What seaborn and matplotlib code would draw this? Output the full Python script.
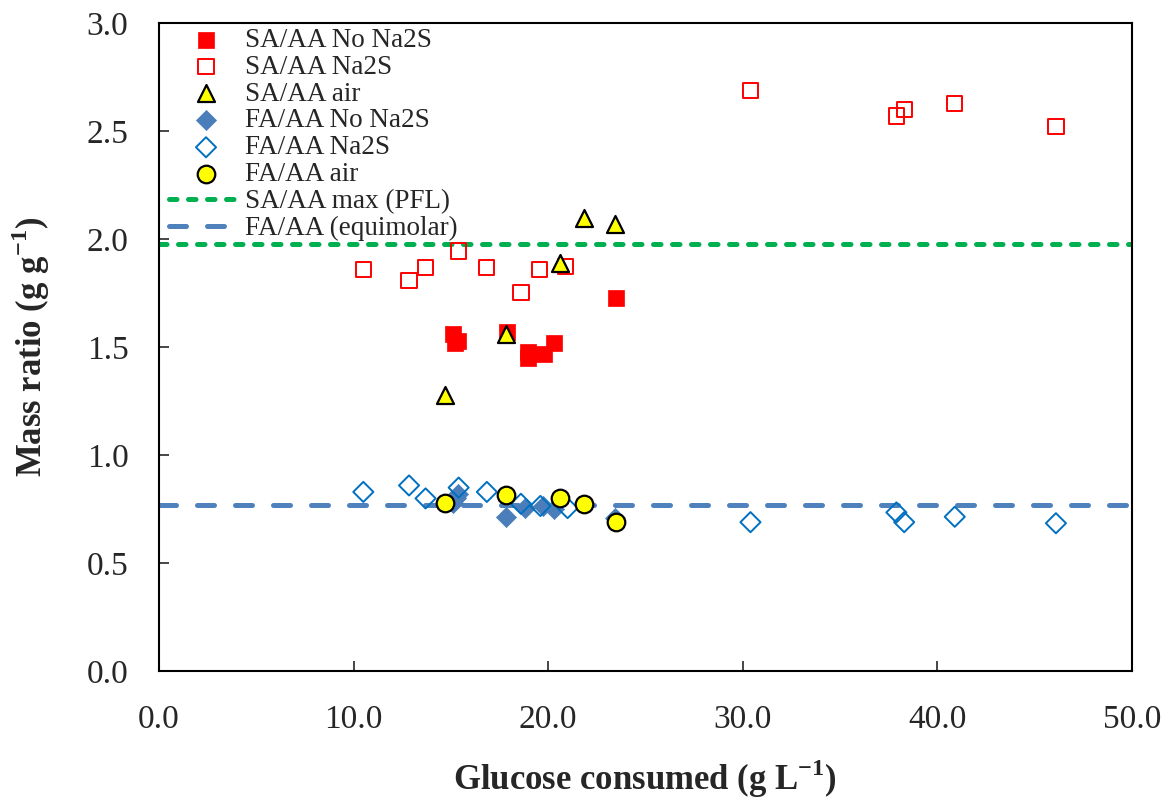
import numpy as np
import matplotlib
matplotlib.use('Agg')
import matplotlib.pyplot as plt
import seaborn as sns

sns.set_style('ticks')
plt.rcParams['font.family'] = ['Liberation Serif', 'DejaVu Serif']
plt.rcParams['mathtext.fontset'] = 'custom'
plt.rcParams['mathtext.rm'] = 'Liberation Serif'
plt.rcParams['mathtext.bf'] = 'Liberation Serif:bold'

# SA/AA, no Na2S (filled red squares)
sa_no_x = [15.1, 15.2, 15.35, 17.9, 18.95, 18.95, 19.8, 20.3, 23.5]
sa_no_y = [1.56, 1.52, 1.53, 1.57, 1.48, 1.45, 1.47, 1.52, 1.73]
# SA/AA, Na2S (open red squares)
sa_na_x = [10.5, 12.85, 13.7, 15.4, 16.85, 18.6, 19.55, 20.9, 30.4, 37.9, 38.3, 40.9, 46.1]
sa_na_y = [1.86, 1.81, 1.87, 1.945, 1.87, 1.755, 1.86, 1.875, 2.69, 2.57, 2.60, 2.63, 2.52]
# SA/AA, air (yellow triangles)
sa_air_x = [14.7, 17.85, 20.6, 21.85, 23.45]
sa_air_y = [1.28, 1.56, 1.89, 2.10, 2.07]
# FA/AA, no Na2S (filled blue diamonds)
fa_no_x = [15.1, 15.25, 15.35, 17.85, 18.8, 19.75, 20.3, 23.45]
fa_no_y = [0.78, 0.80, 0.82, 0.715, 0.755, 0.765, 0.75, 0.71]
# FA/AA, Na2S (open blue diamonds)
fa_na_x = [10.5, 12.85, 13.7, 15.4, 16.85, 18.6, 19.6, 21.0, 30.4, 37.9, 38.3, 40.9, 46.1]
fa_na_y = [0.83, 0.86, 0.80, 0.85, 0.83, 0.775, 0.765, 0.755, 0.69, 0.735, 0.69, 0.715, 0.685]
# FA/AA, air (yellow circles)
fa_air_x = [14.7, 17.85, 20.6, 21.85, 23.5]
fa_air_y = [0.78, 0.815, 0.80, 0.775, 0.69]

sa_max = 1.98
fa_equimolar = 0.77

fig = plt.figure(figsize=(11.72, 8.0), dpi=100)
ax = fig.add_axes([0.1357, 0.161, 0.830, 0.810])

ax.axhline(sa_max, color='#00B050', lw=3.6, ls=(0, (1.5, 2.3)),
           dash_capstyle='round', zorder=1, label='SA/AA max (PFL)')
ax.axhline(fa_equimolar, color='#4F81BD', lw=3.6, ls=(0, (3.4, 4.2)),
           dash_capstyle='round', zorder=1, label='FA/AA (equimolar)')

sns.scatterplot(x=sa_no_x, y=sa_no_y, ax=ax, marker='s', s=120, color='#FF0000',
                edgecolor='#FF0000', linewidth=0.5, zorder=3, label='SA/AA No Na2S')
sns.scatterplot(x=sa_na_x, y=sa_na_y, ax=ax, marker='s', s=120, facecolor='none',
                edgecolor='#FF0000', linewidth=1.4, zorder=3, label='SA/AA Na2S')
sns.scatterplot(x=fa_no_x, y=fa_no_y, ax=ax, marker='D', s=105, color='#4A7EBB',
                edgecolor='#4A7EBB', linewidth=0.5, zorder=3, label='FA/AA No Na2S')
sns.scatterplot(x=fa_na_x, y=fa_na_y, ax=ax, marker='D', s=105, facecolor='none',
                edgecolor='#0070C0', linewidth=1.4, zorder=3, label='FA/AA Na2S')
sns.scatterplot(x=sa_air_x, y=sa_air_y, ax=ax, marker='^', s=150, color='#FFFF00',
                edgecolor='black', linewidth=1.6, zorder=4, label='SA/AA air')
sns.scatterplot(x=fa_air_x, y=fa_air_y, ax=ax, marker='o', s=160, color='#FFFF00',
                edgecolor='black', linewidth=1.6, zorder=4, label='FA/AA air')

handles, labels = ax.get_legend_handles_labels()
lookup = dict(zip(labels, handles))
order = ['SA/AA No Na2S', 'SA/AA Na2S', 'SA/AA air', 'FA/AA No Na2S',
         'FA/AA Na2S', 'FA/AA air', 'SA/AA max (PFL)', 'FA/AA (equimolar)']
ax.legend([lookup[k] for k in order], order, loc='upper left',
          bbox_to_anchor=(-0.006, 1.018), frameon=False, fontsize=19.5,
          handlelength=2.7, handletextpad=0.1, labelspacing=0.07,
          borderaxespad=0.2)

ax.set_xlim(0, 50)
ax.set_ylim(0, 3.0)
ax.set_xticks(np.arange(0, 51, 10))
ax.set_yticks(np.arange(0, 3.01, 0.5))
ax.xaxis.set_major_formatter(matplotlib.ticker.FormatStrFormatter('%.1f'))
ax.yaxis.set_major_formatter(matplotlib.ticker.FormatStrFormatter('%.1f'))
ax.tick_params(axis='both', direction='in', length=7, width=1.2, labelsize=24)
ax.tick_params(axis='x', pad=24)
ax.tick_params(axis='y', pad=22)
for sp in ax.spines.values():
    sp.set_linewidth(1.5)
    sp.set_color('black')

ax.set_xlabel(r'Glucose consumed (g L$^{\mathbf{-1}}$)', fontsize=25,
              fontweight='bold', labelpad=16)
ax.set_ylabel(r'Mass ratio (g g$^{\mathbf{-1}}$)', fontsize=25,
              fontweight='bold', labelpad=25)

fig.savefig('out.png', dpi=100)
